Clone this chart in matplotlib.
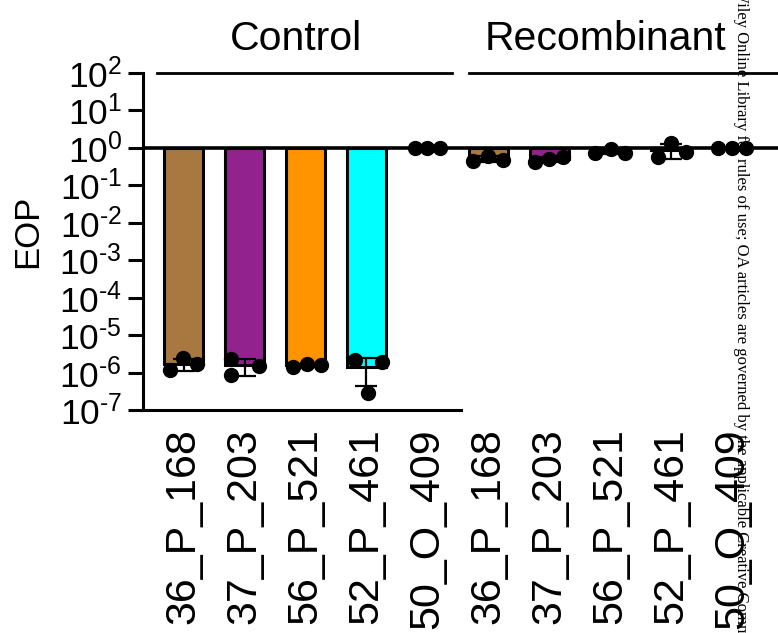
import numpy as np
import matplotlib
matplotlib.use("Agg")
import matplotlib.pyplot as plt
from matplotlib import transforms

plt.rcParams['font.family'] = ['Liberation Sans', 'DejaVu Sans']
plt.rcParams['mathtext.fontset'] = 'custom'
plt.rcParams['mathtext.rm'] = 'Liberation Sans'

# data
groups = ['Control', 'Recombinant']
strains = ['36_P_168', '37_P_203', '56_P_521', '52_P_461', '50_O_409']
bar_colours = ['#a77840', '#92228e', '#ff9300', '#00ffff', '#ffffff']

control_eop = [
    [1.15e-6, 2.4e-6, 1.66e-6],
    [2.35e-6, 8.5e-7, 1.48e-6],
    [1.41e-6, 1.74e-6, 1.58e-6],
    [2.14e-6, 1.92e-6, 2.9e-7],
    [1.0, 1.0, 1.0],
]
recombinant_eop = [
    [0.45, 0.62, 0.47],
    [0.42, 0.50, 0.58],
    [0.73, 0.95, 0.73],
    [0.57, 1.35, 0.78],
    [1.0, 1.0, 1.0],
]
ytick_exp = [2, 1, 0, -1, -2, -3, -4, -5, -6, -7]

# scatter offsets of the replicate dots (x units of one bar slot)
jitter = [
    [-0.23, -0.02, 0.21], [-0.22, -0.22, 0.23], [-0.20, 0.03, 0.25],
    [-0.18, 0.26, 0.03], [-0.21, 0.0, 0.21],
    [-0.25, 0.0, 0.25], [-0.23, 0.0, 0.23], [-0.25, 0.02, 0.25],
    [-0.21, 0.0, 0.25], [-0.23, 0.0, 0.23],
]

points = control_eop + recombinant_eop
labels = strains + strains
colours = bar_colours + bar_colours
x = np.arange(len(points))
means = np.array([np.mean(p) for p in points])
sds = np.array([np.std(p, ddof=1) for p in points])


def decade_label(e):
    # hyphen instead of the long minus sign, like the original
    if e < 0:
        return r'$\mathregular{10^{\text{-}%d}}$' % -e
    return r'$\mathregular{10^{%d}}$' % e


fig = plt.figure(figsize=(7.78, 6.33), dpi=100)
ax = fig.add_axes([143 / 778, 223 / 633, 635 / 778, 337 / 633])
ax.set_yscale('log')

ax.bar(x, means - 1.0, bottom=1.0, width=0.64, color=colours,
       edgecolor='black', linewidth=2.2, zorder=2)
ax.errorbar(x, means, yerr=[np.minimum(sds, means * 0.999), sds], fmt='none',
            ecolor='black', elinewidth=1.6, capsize=8, capthick=1.6, zorder=3)
for i, p in enumerate(points):
    ax.plot(x[i] + np.array(jitter[i]), p, 'o', color='black', ms=10,
            zorder=4, clip_on=False)

ax.axhline(1.0, color='black', lw=2.6, zorder=5)

ax.set_xlim(-0.67, 9.76)
ax.set_ylim(1e-7, 1e2)
ax.set_yticks([10.0 ** e for e in ytick_exp])
ax.set_yticklabels([decade_label(e) for e in ytick_exp], fontsize=25.5)
ax.minorticks_off()
ax.tick_params(axis='y', length=11, width=2.2, pad=4)
ax.set_xticks(x)
ax.set_xticklabels(labels, rotation=90, fontsize=31, va='top', ha='center')
ax.tick_params(axis='x', length=0, pad=13)
ax.set_ylabel('EOP', fontsize=25)
ax.yaxis.set_label_coords(-0.156, 0.53)

for s in ['top', 'right']:
    ax.spines[s].set_visible(False)
ax.spines['left'].set_linewidth(2.2)
ax.spines['bottom'].set_linewidth(2.2)
ax.spines['bottom'].set_bounds(-0.67, 4.56)

# group brackets on top
trans = transforms.blended_transform_factory(ax.transData, ax.transAxes)
n = len(strains)
for g, name in enumerate(groups):
    lo, hi = g * n, g * n + n - 1
    ax.plot([lo - 0.44 + 0.13 * g, hi + 0.40 + 2 * g], [1.0, 1.0], color='black',
            lw=2.0, transform=trans, clip_on=False)
    ax.text((lo + hi) / 2 - 0.15 + 0.08 * g, 1.068, name, fontsize=29.5,
            ha='center', va='baseline', transform=trans)

fig.text(741 / 778, 1.02, 'Wiley Online Library for rules of use; OA articles are '
         'governed by the applicable Creative Commons', rotation=-90,
         fontsize=12, family='Liberation Serif', ha='center', va='top')

fig.savefig('out.png', dpi=100)
